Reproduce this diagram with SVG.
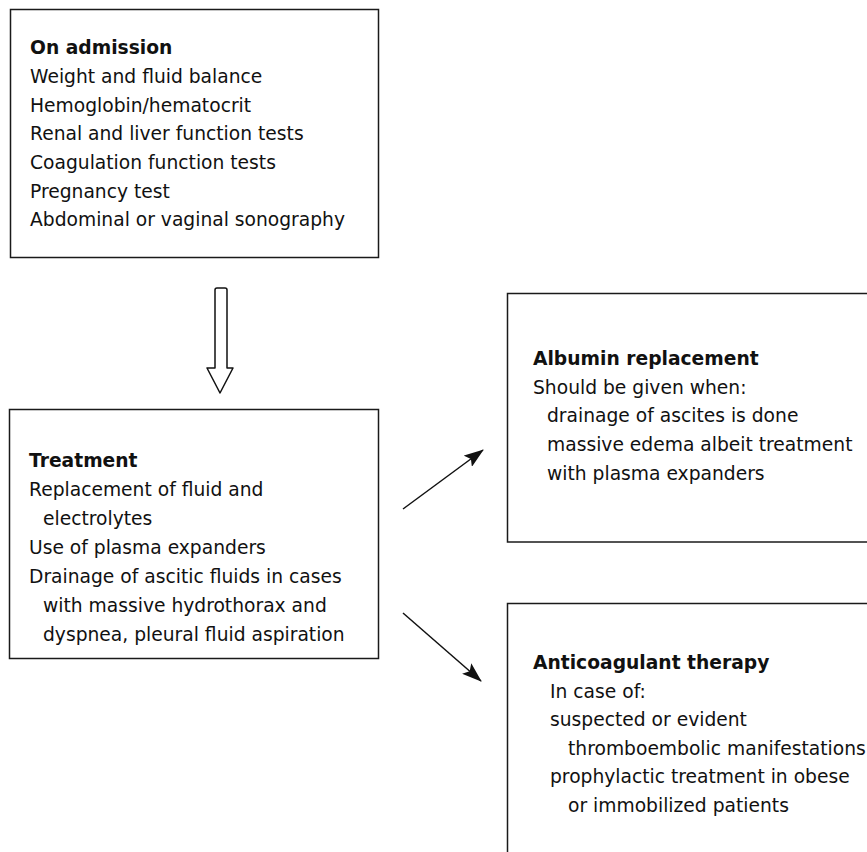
<svg xmlns="http://www.w3.org/2000/svg" width="867" height="852" viewBox="0 0 867 852">
<defs>
<style>
.box{fill:#fff;stroke:#1a1a1a;stroke-width:1.5}
.t{font-family:"DejaVu Sans","Liberation Sans",sans-serif;font-size:18.7px;fill:#111}
.h{font-weight:bold}
.ln{stroke:#111;stroke-width:1.5;fill:none}
</style>
<marker id="ah" viewBox="0 0 10 10" refX="9" refY="5" markerWidth="9" markerHeight="9" markerUnits="userSpaceOnUse" orient="auto">
<path d="M0,0 L10,5 L0,10 Z" fill="#111"/>
</marker>
<marker id="ah2" viewBox="0 0 20 14" refX="19" refY="7" markerWidth="20" markerHeight="14" markerUnits="userSpaceOnUse" orient="auto">
<path d="M0,0 L20,7 L0,14 L4,7 Z" fill="#111"/>
</marker>
</defs>
<rect width="867" height="852" fill="#fff"/>
<g id="admission">
<rect class="box" x="10.5" y="9.5" width="368" height="248"/>
<text class="t h" x="30" y="54">On admission</text>
<text class="t" x="30" y="83">Weight and fluid balance</text>
<text class="t" x="30" y="111.5">Hemoglobin/hematocrit</text>
<text class="t" x="30" y="140">Renal and liver function tests</text>
<text class="t" x="30" y="169">Coagulation function tests</text>
<text class="t" x="30" y="197.5">Pregnancy test</text>
<text class="t" x="30" y="226">Abdominal or vaginal sonography</text>
</g>
<g id="treatment">
<rect class="box" x="9.5" y="409.5" width="369" height="249"/>
<text class="t h" x="29" y="467">Treatment</text>
<text class="t" x="29" y="496">Replacement of fluid and</text>
<text class="t" x="43" y="525">electrolytes</text>
<text class="t" x="29" y="554">Use of plasma expanders</text>
<text class="t" x="29" y="583">Drainage of ascitic fluids in cases</text>
<text class="t" x="43" y="612">with massive hydrothorax and</text>
<text class="t" x="43" y="641">dyspnea, pleural fluid aspiration</text>
</g>
<g id="albumin">
<rect class="box" x="507.5" y="293.5" width="400" height="248.5"/>
<text class="t h" x="533" y="365">Albumin replacement</text>
<text class="t" x="533" y="393.5">Should be given when:</text>
<text class="t" x="547" y="422">drainage of ascites is done</text>
<text class="t" x="547" y="451">massive edema albeit treatment</text>
<text class="t" x="547" y="480">with plasma expanders</text>
</g>
<g id="anticoagulant">
<rect class="box" x="507.5" y="603.5" width="400" height="260"/>
<text class="t h" x="533" y="669">Anticoagulant therapy</text>
<text class="t" x="550" y="697.5">In case of:</text>
<text class="t" x="550" y="726">suspected or evident</text>
<text class="t" x="568" y="754.5">thromboembolic manifestations</text>
<text class="t" x="550" y="783">prophylactic treatment in obese</text>
<text class="t" x="568" y="811.5">or immobilized patients</text>
</g>
<g id="connectors">
<path class="ln" fill="#fff" stroke-linejoin="round" d="M215,368 L215,290 Q215,288 217,288 L225,288 Q227,288 227,290 L227,368 L233,368 L220,393 L207,368 Z" style="fill:#fff"/>
<line class="ln" x1="403" y1="509" x2="483" y2="450" marker-end="url(#ah2)"/>
<line class="ln" x1="403" y1="613" x2="481" y2="681" marker-end="url(#ah2)"/>
</g>
</svg>
